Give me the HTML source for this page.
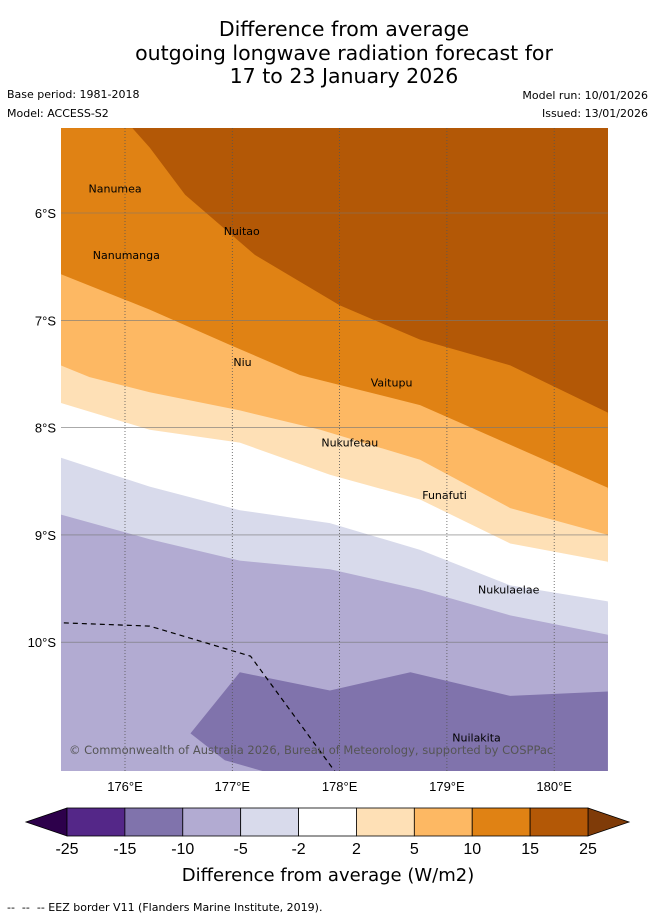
<!DOCTYPE html>
<html><head><meta charset="utf-8"><style>
body{margin:0;background:#fff;font-family:"Liberation Sans",sans-serif}
svg text{font-family:"Liberation Sans",sans-serif}
svg text.dj{font-family:"DejaVu Sans",sans-serif}
</style></head><body>
<svg id="chart" width="655" height="919" viewBox="0 0 655 919">
<g font-size="20.5" text-anchor="middle" fill="#000">
<text class="dj" x="344" y="36">Difference from average</text>
<text class="dj" x="344" y="60">outgoing longwave radiation forecast for</text>
<text class="dj" x="344" y="83">17 to 23 January 2026</text>
</g>
<g font-size="11" fill="#000">
<text class="dj" x="7" y="98">Base period: 1981-2018</text>
<text class="dj" x="7" y="117">Model: ACCESS-S2</text>
<text class="dj" x="648" y="99" text-anchor="end">Model run: 10/01/2026</text>
<text class="dj" x="648" y="117" text-anchor="end">Issued: 13/01/2026</text>
</g>
<defs><clipPath id="mapclip"><rect x="61" y="128" width="547" height="643"/></clipPath></defs>
<g id="map" clip-path="url(#mapclip)"></g>
<g id="grid"></g>
<g id="axes"></g>
<g id="cbar"></g>
<text class="dj" x="328" y="881" font-size="18" text-anchor="middle">Difference from average (W/m2)</text>
<text class="dj" x="7" y="911" font-size="11">-- &#160;-- &#160;-- EEZ border V11 (Flanders Marine Institute, 2019).</text>
</svg>
<script>
const lonTicks=[176,177,178,179,180];
const latTicks=[6,7,8,9,10];
const cbLevels=[-25,-15,-10,-5,-2,2,5,10,15,25];
const cbColors=["#542788","#8073ac","#b2abd2","#d8daeb","#ffffff","#fee0b6","#fdb863","#e08214","#b35806"];
const bound15=[[176.07,5.21],[176.23,5.39],[176.56,5.83],[177.21,6.39],[178.0,6.86],[178.75,7.18],[179.59,7.42],[180.5,7.86]];
const bound10=[[175.40,6.57],[176.23,6.90],[176.98,7.23],[177.63,7.51],[178.75,7.79],[179.59,8.16],[180.5,8.56]];
const bound5=[[175.40,7.42],[175.67,7.53],[176.23,7.67],[177.07,7.84],[177.82,8.02],[178.75,8.30],[179.59,8.75],[180.5,9.00]];
const bound2=[[175.40,7.77],[176.23,8.02],[177.07,8.14],[177.91,8.44],[178.75,8.67],[179.59,9.08],[180.5,9.25]];
const boundM2=[[175.40,8.28],[176.23,8.55],[177.07,8.77],[177.91,8.89],[178.75,9.14],[179.59,9.47],[180.5,9.62]];
const boundM5=[[175.40,8.81],[176.23,9.04],[177.07,9.24],[177.91,9.32],[178.75,9.51],[179.59,9.75],[180.5,9.93]];
const regionM10=[[176.61,10.85],[177.07,10.28],[177.91,10.45],[178.66,10.28],[179.59,10.50],[180.5,10.46],[180.5,11.3],[177.63,11.3],[176.93,11.10]];
const eez=[[175.43,9.82],[176.23,9.85],[177.17,10.13],[177.96,11.21]];
const islandNames=["Nanumea","Nuitao","Nanumanga","Niu","Vaitupu","Nukufetau","Funafuti","Nukulaelae","Nuilakita"];
const islandLon=[175.66,176.92,175.70,177.01,178.29,177.83,178.77,179.29,179.05];
const islandLat=[5.77,6.17,6.39,7.39,7.58,8.14,8.63,9.51,10.89];

const X=lon=>125+(lon-176)*107.3;
const Y=lat=>213+(lat-6)*107.3;
const NS="http://www.w3.org/2000/svg";
function mk(tag,parent){const e=document.createElementNS(NS,tag);parent.appendChild(e);return e;}
const map=document.getElementById('map');
const bg=mk('rect',map);bg.setAttribute('x',61);bg.setAttribute('y',128);bg.setAttribute('width',547);bg.setAttribute('height',643);bg.setAttribute('fill','#b35806');


const bands=[[bound15,"#e08214","band-10-15"],[bound10,"#fdb863","band-5-10"],[bound5,"#fee0b6","band-2-5"],[bound2,"#ffffff","band-neutral"],[boundM2,"#d8daeb","band-m5-m2"],[boundM5,"#b2abd2","band-m10-m5"]];
bands.forEach(([b,c,n])=>{
  const pts=b.map(p=>X(p[0])+','+Y(p[1]));
  pts.push('620,790','50,790');
  if(b[0][1]<5.5) pts.push('50,128');
  const p=mk('polygon',map);p.setAttribute('points',pts.join(' '));p.setAttribute('fill',c);
  
  
});
const r10=mk('polygon',map);r10.setAttribute('points',regionM10.map(p=>X(p[0])+','+Y(p[1])).join(' '));r10.setAttribute('fill','#8073ac');


const ez=mk('polyline',map);ez.setAttribute('points',eez.map(p=>X(p[0])+','+Y(p[1])).join(' '));ez.setAttribute('fill','none');ez.setAttribute('stroke','#000');ez.setAttribute('stroke-width','1.2');ez.setAttribute('stroke-dasharray','5,4');


islandNames.forEach((n,i)=>{
  const t=mk('text',map);t.setAttribute('x',X(islandLon[i]));t.setAttribute('y',Y(islandLat[i])+4);t.setAttribute('font-size','11');t.setAttribute('class','dj');t.textContent=n;
  
  
});
const cp=mk('text',map);cp.setAttribute('x',69);cp.setAttribute('y',754);cp.setAttribute('font-size','11.5');cp.setAttribute('class','dj');cp.setAttribute('fill','#555');cp.textContent='© Commonwealth of Australia 2026, Bureau of Meteorology, supported by COSPPac';


const grid=document.getElementById('grid'),axes=document.getElementById('axes');
lonTicks.forEach(l=>{
  const g=mk('line',grid);g.setAttribute('x1',X(l));g.setAttribute('x2',X(l));g.setAttribute('y1',128);g.setAttribute('y2',771);g.setAttribute('stroke','#555');g.setAttribute('stroke-width','0.8');g.setAttribute('stroke-dasharray','1,2');
  
  
  const t=mk('text',axes);t.setAttribute('x',X(l));t.setAttribute('y',791);t.setAttribute('font-size','13');t.setAttribute('text-anchor','middle');t.textContent=l+'°E';
  
  
});
latTicks.forEach(l=>{
  const g=mk('line',grid);g.setAttribute('x1',61);g.setAttribute('x2',608);g.setAttribute('y1',Y(l));g.setAttribute('y2',Y(l));g.setAttribute('stroke','#777');g.setAttribute('stroke-width','0.6');
  
  
  const t=mk('text',axes);t.setAttribute('x',56);t.setAttribute('y',Y(l)+5);t.setAttribute('font-size','13');t.setAttribute('text-anchor','end');t.textContent=l+'°S';
  
  
});
const cb=document.getElementById('cbar');
const cx0=67,cw=(588-67)/cbColors.length,cy=808,ch=28;
const lt=mk('polygon',cb);lt.setAttribute('points',`${cx0},${cy} 26,${cy+ch/2} ${cx0},${cy+ch}`);lt.setAttribute('fill','#2d004b');lt.setAttribute('stroke','#000');lt.setAttribute('stroke-width','0.8');


const rt=mk('polygon',cb);rt.setAttribute('points',`588,${cy} 629,${cy+ch/2} 588,${cy+ch}`);rt.setAttribute('fill','#7f3b08');rt.setAttribute('stroke','#000');rt.setAttribute('stroke-width','0.8');


cbColors.forEach((c,i)=>{
  const r=mk('rect',cb);r.setAttribute('x',cx0+i*cw);r.setAttribute('y',cy);r.setAttribute('width',cw);r.setAttribute('height',ch);r.setAttribute('fill',c);r.setAttribute('stroke','#000');r.setAttribute('stroke-width','0.8');
  
  
});
cbLevels.forEach((v,i)=>{
  const t=mk('text',cb);t.setAttribute('x',cx0+i*cw);t.setAttribute('y',854);t.setAttribute('font-size','16');t.setAttribute('text-anchor','middle');t.textContent=v;
  
  
});
</script>
</body></html>
